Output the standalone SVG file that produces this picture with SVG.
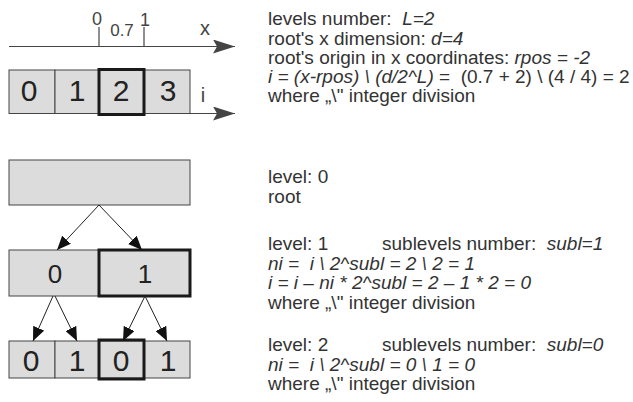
<svg xmlns="http://www.w3.org/2000/svg" width="633" height="402" viewBox="0 0 633 402">
<style>
text{font-family:"Liberation Sans",Arial,sans-serif;fill:#333;white-space:pre}
.t{font-size:19px}
.i{font-style:italic}
.num{font-size:30px;text-anchor:middle;fill:#222}
.num1{font-size:26px;text-anchor:middle;fill:#222}
.ax{font-size:18px;fill:#444;text-anchor:middle}
.cell{fill:#dcdcdc;stroke:#444;stroke-width:1}
.thick{fill:none;stroke:#1a1a1a;stroke-width:3}
.axis{stroke:#444;stroke-width:1.2;fill:none}
.conn{stroke:#222;stroke-width:1;fill:none}
</style>
<defs>
<marker id="big" markerWidth="22" markerHeight="14" refX="22" refY="7" orient="auto" markerUnits="userSpaceOnUse">
<path d="M0,0 L22,7 L0,14 L4,7 Z" fill="#444"/>
</marker>
<marker id="ah" markerWidth="14" markerHeight="12" refX="14" refY="6" orient="auto" markerUnits="userSpaceOnUse">
<path d="M0,0 L14,6 L0,12 Z" fill="#111"/>
</marker>
</defs>

<g id="x-axis">
<line class="axis" x1="9" y1="46.5" x2="235" y2="46.5" marker-end="url(#big)"/>
<line class="axis" x1="99" y1="27" x2="99" y2="46.5"/>
<line class="axis" x1="144" y1="27" x2="144" y2="46.5"/>
<text class="ax" x="97" y="25">0</text>
<text class="ax" x="145" y="26">1</text>
<text class="ax" x="122" y="36" style="font-size:17px">0.7</text>
<text class="ax" x="205" y="35" style="font-size:20px">x</text>
</g>

<g id="i-row">
<rect class="cell" x="9" y="70" width="46" height="43.5"/>
<rect class="cell" x="55" y="70" width="44" height="43.5"/>
<rect class="cell" x="99" y="70" width="45" height="43.5"/>
<rect class="cell" x="144" y="70" width="46" height="43.5"/>
<rect class="thick" x="99" y="69.5" width="45" height="45"/>
<text class="num" x="29" y="101">0</text>
<text class="num" x="77" y="101">1</text>
<text class="num" x="121" y="101">2</text>
<text class="num" x="168" y="101">3</text>
<line class="axis" x1="190" y1="113.5" x2="235" y2="113.5" marker-end="url(#big)"/>
<text class="ax" x="203" y="102" style="font-size:20px">i</text>
</g>

<g id="root">
<rect class="cell" x="9" y="160" width="181" height="45"/>
</g>

<g id="level1">
<rect class="cell" x="9" y="250" width="90" height="46"/>
<rect class="cell" x="99" y="250" width="91" height="46"/>
<rect class="thick" x="99" y="250" width="91" height="46"/>
<text class="num1" x="55" y="283">0</text>
<text class="num1" x="145" y="283">1</text>
</g>

<g id="level2">
<rect class="cell" x="9" y="341" width="46" height="37"/>
<rect class="cell" x="55" y="341" width="44" height="37"/>
<rect class="cell" x="99" y="341" width="45" height="37"/>
<rect class="cell" x="144" y="341" width="46" height="37"/>
<rect class="thick" x="99" y="340" width="45" height="39"/>
<text class="num" x="31" y="371">0</text>
<text class="num" x="77" y="371">1</text>
<text class="num" x="121" y="371">0</text>
<text class="num" x="168" y="371">1</text>
</g>

<g id="connectors">
<line class="conn" x1="99" y1="205" x2="57" y2="250" marker-end="url(#ah)"/>
<line class="conn" x1="99" y1="205" x2="142" y2="250" marker-end="url(#ah)"/>
<line class="conn" x1="53" y1="296" x2="33" y2="341" marker-end="url(#ah)"/>
<line class="conn" x1="55" y1="296" x2="77" y2="341" marker-end="url(#ah)"/>
<line class="conn" x1="145" y1="296" x2="123" y2="341" marker-end="url(#ah)"/>
<line class="conn" x1="145" y1="296" x2="167" y2="341" marker-end="url(#ah)"/>
</g>

<g id="text-top">
<text class="t" x="268" y="25">levels number:  <tspan class="i">L=2</tspan></text>
<text class="t" x="268" y="44.5">root's x dimension: <tspan class="i">d=4</tspan></text>
<text class="t" x="268" y="63.5">root's origin in x coordinates: <tspan class="i">rpos = -2</tspan></text>
<text class="t" x="268" y="83"><tspan class="i">i = (x-rpos) \ (d/2^L)</tspan> =  (0.7 + 2) \ (4 / 4) = 2</text>
<text class="t" x="268" y="102">where „\" integer division</text>
</g>

<g id="text-level0">
<text class="t" x="268" y="183">level: 0</text>
<text class="t" x="268" y="202.5">root</text>
</g>

<g id="text-level1">
<text class="t" x="268" y="250">level: 1</text>
<text class="t" x="382" y="250">sublevels number:  <tspan class="i">subl=1</tspan></text>
<text class="t i" x="268" y="269.5">ni =  i \ 2^subl = 2 \ 2 = 1</text>
<text class="t i" x="268" y="289">i = i – ni * 2^subl = 2 – 1 * 2 = 0</text>
<text class="t" x="268" y="308.5">where „\" integer division</text>
</g>

<g id="text-level2">
<text class="t" x="268" y="351">level: 2</text>
<text class="t" x="382" y="351">sublevels number:  <tspan class="i">subl=0</tspan></text>
<text class="t i" x="268" y="370.5">ni =  i \ 2^subl = 0 \ 1 = 0</text>
<text class="t" x="268" y="390">where „\" integer division</text>
</g>
</svg>
